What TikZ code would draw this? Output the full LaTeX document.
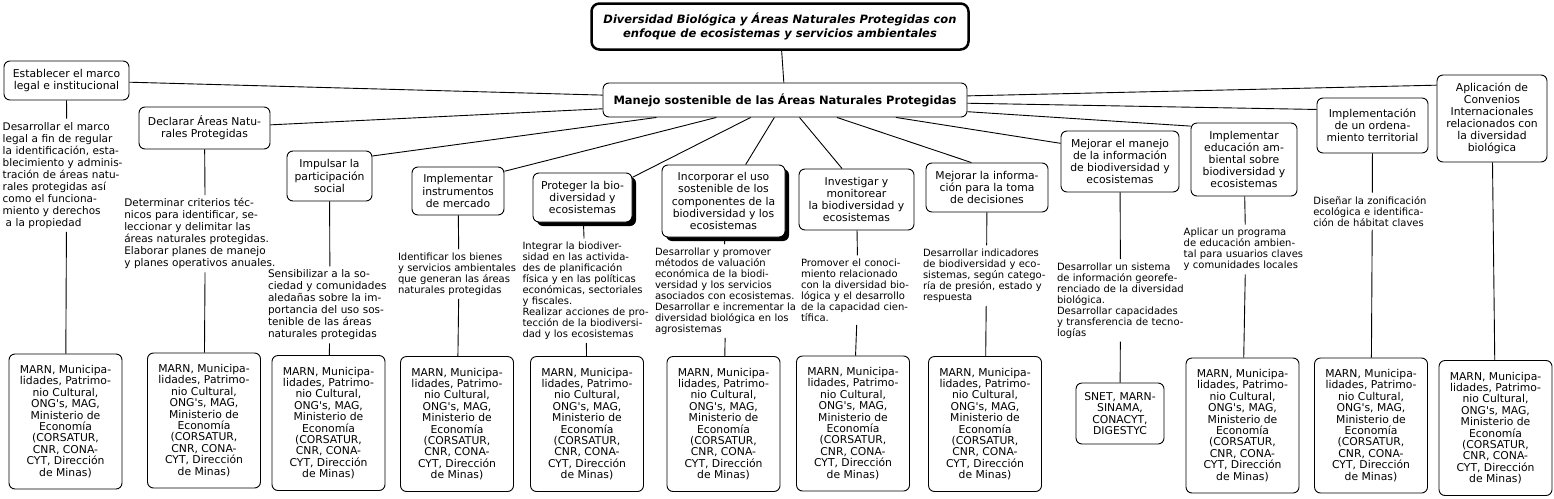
\documentclass[tikz,border=0pt]{standalone}
\usepackage{fontspec}
\setmainfont{DejaVu Sans}
\usetikzlibrary{shadows}

\newcommand{\instit}{MARN, Municipa-\\lidades, Patrimo-\\nio Cultural,\\ONG\textquotesingle s, MAG,\\Ministerio de\\Economía\\(CORSATUR,\\CNR, CONA-\\CYT, Dirección\\de Minas)}

\begin{document}
\begin{tikzpicture}[x=1pt, y=-1pt, line width=0.9pt,
	cbox/.style={draw, fill=white, rounded corners=6pt, align=center, inner sep=2pt, font=\fontsize{10.8}{12.1}\selectfont},
	ibox/.style={cbox, minimum width=113pt, minimum height=135pt, font=\fontsize{10.8}{11.4}\selectfont},
	notev/.style={anchor=north, align=left, inner sep=3pt, font=\fontsize{10.5}{12}\selectfont},
	notet/.style={anchor=north, align=left, inner sep=3pt, font=\fontsize{10}{11}\selectfont},
	dropbox/.style={drop shadow={shadow xshift=4pt, shadow yshift=-4pt, fill=black, opacity=1}}]
	\useasboundingbox (0,0) rectangle (1554,498);

	% title and centre
	\node[draw, fill=white, line width=2.5pt, rounded corners=8pt, align=center, minimum width=377pt, minimum height=46pt,
		font=\bfseries\itshape\fontsize{11.5}{14}\selectfont] (title) at (780,26.5)
		{Diversidad Biológica y Áreas Naturales Protegidas con\\enfoque de ecosistemas y servicios ambientales};
	\node[cbox, minimum width=364pt, minimum height=34pt, font=\bfseries\fontsize{11.5}{14}\selectfont] (main) at (785,100)
		{Manejo sostenible de las Áreas Naturales Protegidas};

	% strategies
	\node[cbox, minimum width=125pt, minimum height=39pt] (b1) at (66.5,80.5) {Establecer el marco\\legal e institucional};
	\node[cbox, minimum width=131pt, minimum height=42pt] (b2) at (204.5,128) {Declarar Áreas Natu-\\rales Protegidas};
	\node[cbox, minimum width=85pt, minimum height=50pt] (b3) at (329.5,176) {Impulsar la\\participación\\social};
	\node[cbox, minimum width=92pt, minimum height=48pt] (b4) at (458,191) {Implementar\\instrumentos\\de mercado};
	\node[cbox, dropbox, minimum width=99pt, minimum height=49pt] (b5) at (582.5,197.5) {Proteger la bio-\\diversidad y\\ecosistemas};
	\node[cbox, dropbox, minimum width=123pt, minimum height=72pt] (b6) at (723.5,201) {Incorporar el uso\\sostenible de los\\componentes de la\\biodiversidad y los\\ecosistemas};
	\node[cbox, minimum width=115pt, minimum height=61pt] (b7) at (856.5,199.5) {Investigar y\\monitorear\\la biodiversidad y\\ecosistemas};
	\node[cbox, minimum width=122pt, minimum height=49pt] (b8) at (987,187.5) {Mejorar la informa-\\ción para la toma\\de decisiones};
	\node[cbox, minimum width=118pt, minimum height=61pt] (b9) at (1120,161.5) {Mejorar el manejo\\de la información\\de biodiversidad y\\ecosistemas};
	\node[cbox, minimum width=106pt, minimum height=73pt] (b10) at (1244,159.5) {Implementar\\educación am-\\biental sobre\\biodiversidad y\\ecosistemas};
	\node[cbox, minimum width=111pt, minimum height=55pt] (b11) at (1372.5,125.5) {Implementación\\de un ordena-\\miento territorial};
	\node[cbox, minimum width=110pt, minimum height=87pt] (b12) at (1492,118.5) {Aplicación de\\Convenios\\Internacionales\\relacionados con\\la diversidad\\biológica};

	% actions
	\node[notev, text width=128pt] (d1) at (66.7,118.7) {Desarrollar el marco\\legal a fin de regular\\la identificación, esta-\\blecimiento y adminis-\\tración de áreas natu-\\rales protegidas así\\como el funciona-\\miento y derechos\\\hspace*{3pt}a la propiedad};
	\node[notev, text width=162pt] (d2) at (205.3,195) {Determinar criterios téc-\\nicos para identificar, se-\\leccionar y delimitar las\\áreas naturales protegidas.\\Elaborar planes de manejo\\y planes operativos anuales.};
	\node[notev, text width=124pt] (d3) at (330,266.3) {Sensibilizar a la so-\\ciedad y comunidades\\aledañas sobre la im-\\portancia del uso sos-\\tenible de las áreas\\naturales protegidas};
	\node[notet, text width=122pt] (d4) at (459,249.3) {Identificar los bienes\\y servicios ambientales\\que generan las áreas\\naturales protegidas};
	\node[notet, text width=127pt] (d5) at (586,238.5) {Integrar la biodiver-\\sidad en las activida-\\des de planificación\\física y en las políticas\\económicas, sectoriales\\y fiscales.\\Realizar acciones de pro-\\tección de la biodiversi-\\dad y los ecosistemas};
	\node[notet, text width=142pt] (d6) at (726,244.3) {Desarrollar y promover\\métodos de valuación\\económica de la biodi-\\versidad y los servicios\\asociados con ecosistemas.\\Desarrollar e incrementar la\\diversidad biológica en los\\agrosistemas};
	\node[notet, text width=114pt] (d7) at (858,255.3) {Promover el conoci-\\miento relacionado\\con la diversidad bio-\\lógica y el desarrollo\\de la capacidad cien-\\tífica.};
	\node[notet, text width=127pt] (d8) at (986.5,245.3) {Desarrollar indicadores\\de biodiversidad y eco-\\sistemas, según catego-\\ría de presión, estado y\\respuesta};
	\node[notet, text width=127pt] (d9) at (1120.5,259) {Desarrollar un sistema\\de información georefe-\\renciado de la diversidad\\biológica.\\Desarrollar capacidades\\y transferencia de tecno-\\logías};
	\node[notet, text width=124pt] (d10) at (1245.7,224.7) {Aplicar un programa\\de educación ambien-\\tal para usuarios claves\\y comunidades locales};
	\node[notet, text width=118pt] (d11) at (1372.3,192.7) {Diseñar la zonificación\\ecológica e identifica-\\ción de hábitat claves};

	% responsible institutions
	\node[ibox] (m1) at (65.5,421.5) {\instit};
	\node[ibox] (m2) at (204,420.5) {\instit};
	\node[ibox] (m3) at (328.5,423) {\instit};
	\node[ibox] (m4) at (457,424) {\instit};
	\node[ibox] (m5) at (587,424) {\instit};
	\node[ibox] (m6) at (723.5,424) {\instit};
	\node[ibox] (m7) at (853,423.5) {\instit};
	\node[ibox] (m8) at (985,424) {\instit};
	\node[cbox, minimum width=88pt, minimum height=61pt, font=\fontsize{10.8}{11.4}\selectfont] (m9) at (1120,413.5) {SNET, MARN-\\SINAMA,\\CONACYT,\\DIGESTYC};
	\node[ibox] (m10) at (1242.5,425.5) {\instit};
	\node[ibox] (m11) at (1371,425.5) {\instit};
	\node[ibox] (m12) at (1495.5,428) {\instit};

	% connectors
	\draw (title) -- (main);
	\draw (main) -- (b1);
	\draw (main) -- (b2);
	\draw (main) -- (b3.25);
	\draw (main) -- (b4.23);
	\draw (main) -- (b5.22);
	\draw (main) -- (b6);
	\draw (main) -- (b7.115);
	\draw (main) -- (b8.122);
	\draw (main) -- (b9.163);
	\draw (main) -- (b10.148);
	\draw (main) -- (b11.164);
	\draw (main) -- (b12.149);
	\draw (b1) -- (d1);  \draw (d1) -- (m1);
	\draw (b2) -- (d2);  \draw (d2) -- (m2);
	\draw (b3) -- (d3);  \draw (d3) -- (m3);
	\draw (b4) -- (d4);  \draw (d4) -- (m4);
	\draw (b5) -- (d5);  \draw (d5) -- (m5);
	\draw (b6) -- (d6);  \draw (d6) -- (m6);
	\draw (b7) -- (d7);  \draw (d7) -- (m7);
	\draw (b8) -- (d8);  \draw (d8) -- (m8);
	\draw (b9) -- (d9);  \draw (d9) -- (m9);
	\draw (b10) -- (d10);  \draw (d10) -- (m10);
	\draw (b11) -- (d11);  \draw (d11) -- (m11);
	\draw (b12) -- (m12);
\end{tikzpicture}
\end{document}
